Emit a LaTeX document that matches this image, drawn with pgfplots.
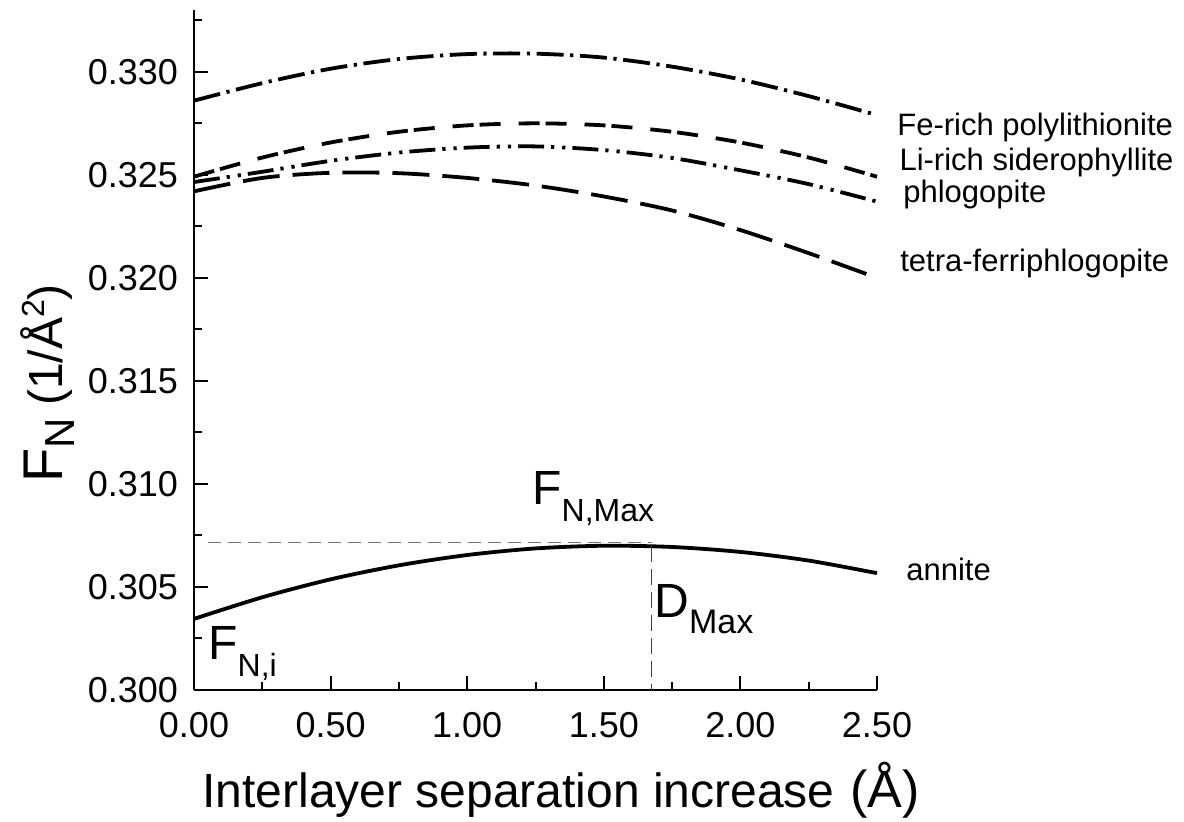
\documentclass[border=0pt]{standalone}
\usepackage{fontspec}
\setmainfont{Liberation Sans}
\usepackage{pgfplots}
\pgfplotsset{compat=1.18}
\begin{document}
\begin{tikzpicture}
\begin{axis}[
  scale only axis, width=341.5pt, height=340pt,
  xmin=0, xmax=2.5, ymin=0.3, ymax=0.333,
  axis x line*=bottom, axis y line*=left,
  axis line style={line width=1pt, black},
  tick align=inside,
  major tick length=7pt, minor tick length=4pt,
  every tick/.style={black, line width=1pt},
  xtick={0,0.5,1,1.5,2,2.5},
  minor xtick={0.25,0.75,1.25,1.75,2.25},
  ytick={0.300,0.305,0.310,0.315,0.320,0.325,0.330},
  minor ytick={0.3025,0.3075,0.3125,0.3175,0.3225,0.3275,0.3325},
  scaled x ticks=false, scaled y ticks=false,
  xticklabel style={/pgf/number format/fixed, /pgf/number format/fixed zerofill, /pgf/number format/precision=2, font=\fontsize{18}{18}\selectfont, yshift=-7.5pt},
  yticklabel style={/pgf/number format/fixed, /pgf/number format/fixed zerofill, /pgf/number format/precision=3, font=\fontsize{18}{18}\selectfont, xshift=-4.5pt},
  /pgf/number format/assume math mode=true,
  clip=false,
]
% Fe-rich polylithionite (dash dot)
\addplot[black, line width=1.9pt, smooth, dash pattern=on 13.5pt off 3.3pt on 1.6pt off 3.3pt] coordinates {
(0,0.32860) (0.25,0.32945) (0.5,0.33015) (0.75,0.33062) (1.0,0.33086) (1.25,0.33088)
(1.5,0.33069) (1.75,0.33025) (2.0,0.32963) (2.25,0.32882) (2.5,0.32790)};
% Li-rich siderophyllite (dashed)
\addplot[black, line width=1.9pt, smooth, dash pattern=on 10.5pt off 3pt on 10.5pt off 9pt] coordinates {
(0,0.32491) (0.25,0.32584) (0.5,0.32657) (0.75,0.32709) (1.0,0.32740) (1.25,0.32750)
(1.5,0.32740) (1.75,0.32709) (2.0,0.32657) (2.25,0.32584) (2.5,0.32491)};
% phlogopite (dash dot dot)
\addplot[black, line width=1.9pt, smooth, dash pattern=on 13pt off 3.5pt on 1.6pt off 4pt on 1.6pt off 3.5pt] coordinates {
(0,0.32465) (0.25,0.32515) (0.5,0.32568) (0.75,0.32608) (1.0,0.32632) (1.25,0.32638)
(1.5,0.32620) (1.75,0.32582) (2.0,0.32522) (2.25,0.32455) (2.5,0.32370)};
% tetra-ferriphlogopite (long dash)
\addplot[black, line width=1.9pt, smooth, dash pattern=on 18.5pt off 6.5pt] coordinates {
(0,0.32420) (0.25,0.32485) (0.5,0.32510) (0.75,0.32508) (1.0,0.32485) (1.25,0.32448)
(1.5,0.32395) (1.75,0.32327) (2.0,0.32232) (2.25,0.32120) (2.5,0.32000)};
% annite (solid)
\addplot[black, line width=1.9pt, smooth] coordinates {
(0,0.30345) (0.25,0.30450) (0.5,0.30537) (0.75,0.30605) (1.0,0.30655) (1.25,0.30687)
(1.5,0.30700) (1.75,0.30694) (2.0,0.30670) (2.25,0.30628) (2.5,0.30567)};
% guide lines
\addplot[black!55, line width=0.6pt, dash pattern=on 6.5pt off 3.5pt] coordinates {(0.05,0.30714) (1.675,0.30714)};
\addplot[black!75, line width=0.6pt, dash pattern=on 8pt off 3.5pt] coordinates {(1.675,0.30700) (1.675,0.300)};
% annotations
\node[anchor=base west, inner sep=0] at (axis cs:1.237,0.30898) {\fontsize{24}{24}\selectfont F\raisebox{-8.5pt}{\fontsize{16}{16}\selectfont N,Max}};
\node[anchor=base west, inner sep=0] at (axis cs:1.684,0.30354) {\fontsize{24}{24}\selectfont D\raisebox{-8pt}{\fontsize{17}{17}\selectfont Max}};
\node[anchor=base west, inner sep=0] at (axis cs:0.051,0.30146) {\fontsize{24}{24}\selectfont F\raisebox{-8.5pt}{\fontsize{16}{16}\selectfont N,i}};
% series labels
\node[anchor=base west, inner sep=0, font=\fontsize{15.5}{15.5}\selectfont] at (axis cs:2.573,0.32690) {Fe-rich polylithionite};
\node[anchor=base west, inner sep=0, font=\fontsize{15.5}{15.5}\selectfont] at (axis cs:2.581,0.32520) {Li-rich siderophyllite};
\node[anchor=base west, inner sep=0, font=\fontsize{15.5}{15.5}\selectfont] at (axis cs:2.595,0.32368) {phlogopite};
\node[anchor=base west, inner sep=0, font=\fontsize{15.5}{15.5}\selectfont] at (axis cs:2.584,0.32030) {tetra-ferriphlogopite};
\node[anchor=base west, inner sep=0, font=\fontsize{15.5}{15.5}\selectfont] at (axis cs:2.606,0.30530) {annite};
% axis labels
\node[rotate=90, anchor=center, inner sep=0] at (axis description cs:-0.215,0.451) {\fontsize{28}{28}\selectfont F\raisebox{-6pt}{\fontsize{21}{21}\selectfont N}\hspace{6pt}\fontsize{24}{24}\selectfont (1/Å\raisebox{9pt}{\fontsize{16}{16}\selectfont 2})};
\node[anchor=base west, inner sep=0, font=\fontsize{24}{24}\selectfont] at (axis description cs:0.0117,-0.1735) {Interlayer separation increase};
\node[anchor=base west, inner sep=0, font=\fontsize{26}{26}\selectfont] at (axis description cs:0.960,-0.1735) {(Å)};
\end{axis}
\pgfresetboundingbox
\useasboundingbox (-97pt,-66pt) rectangle (495pt,345pt);
\end{tikzpicture}
\end{document}
